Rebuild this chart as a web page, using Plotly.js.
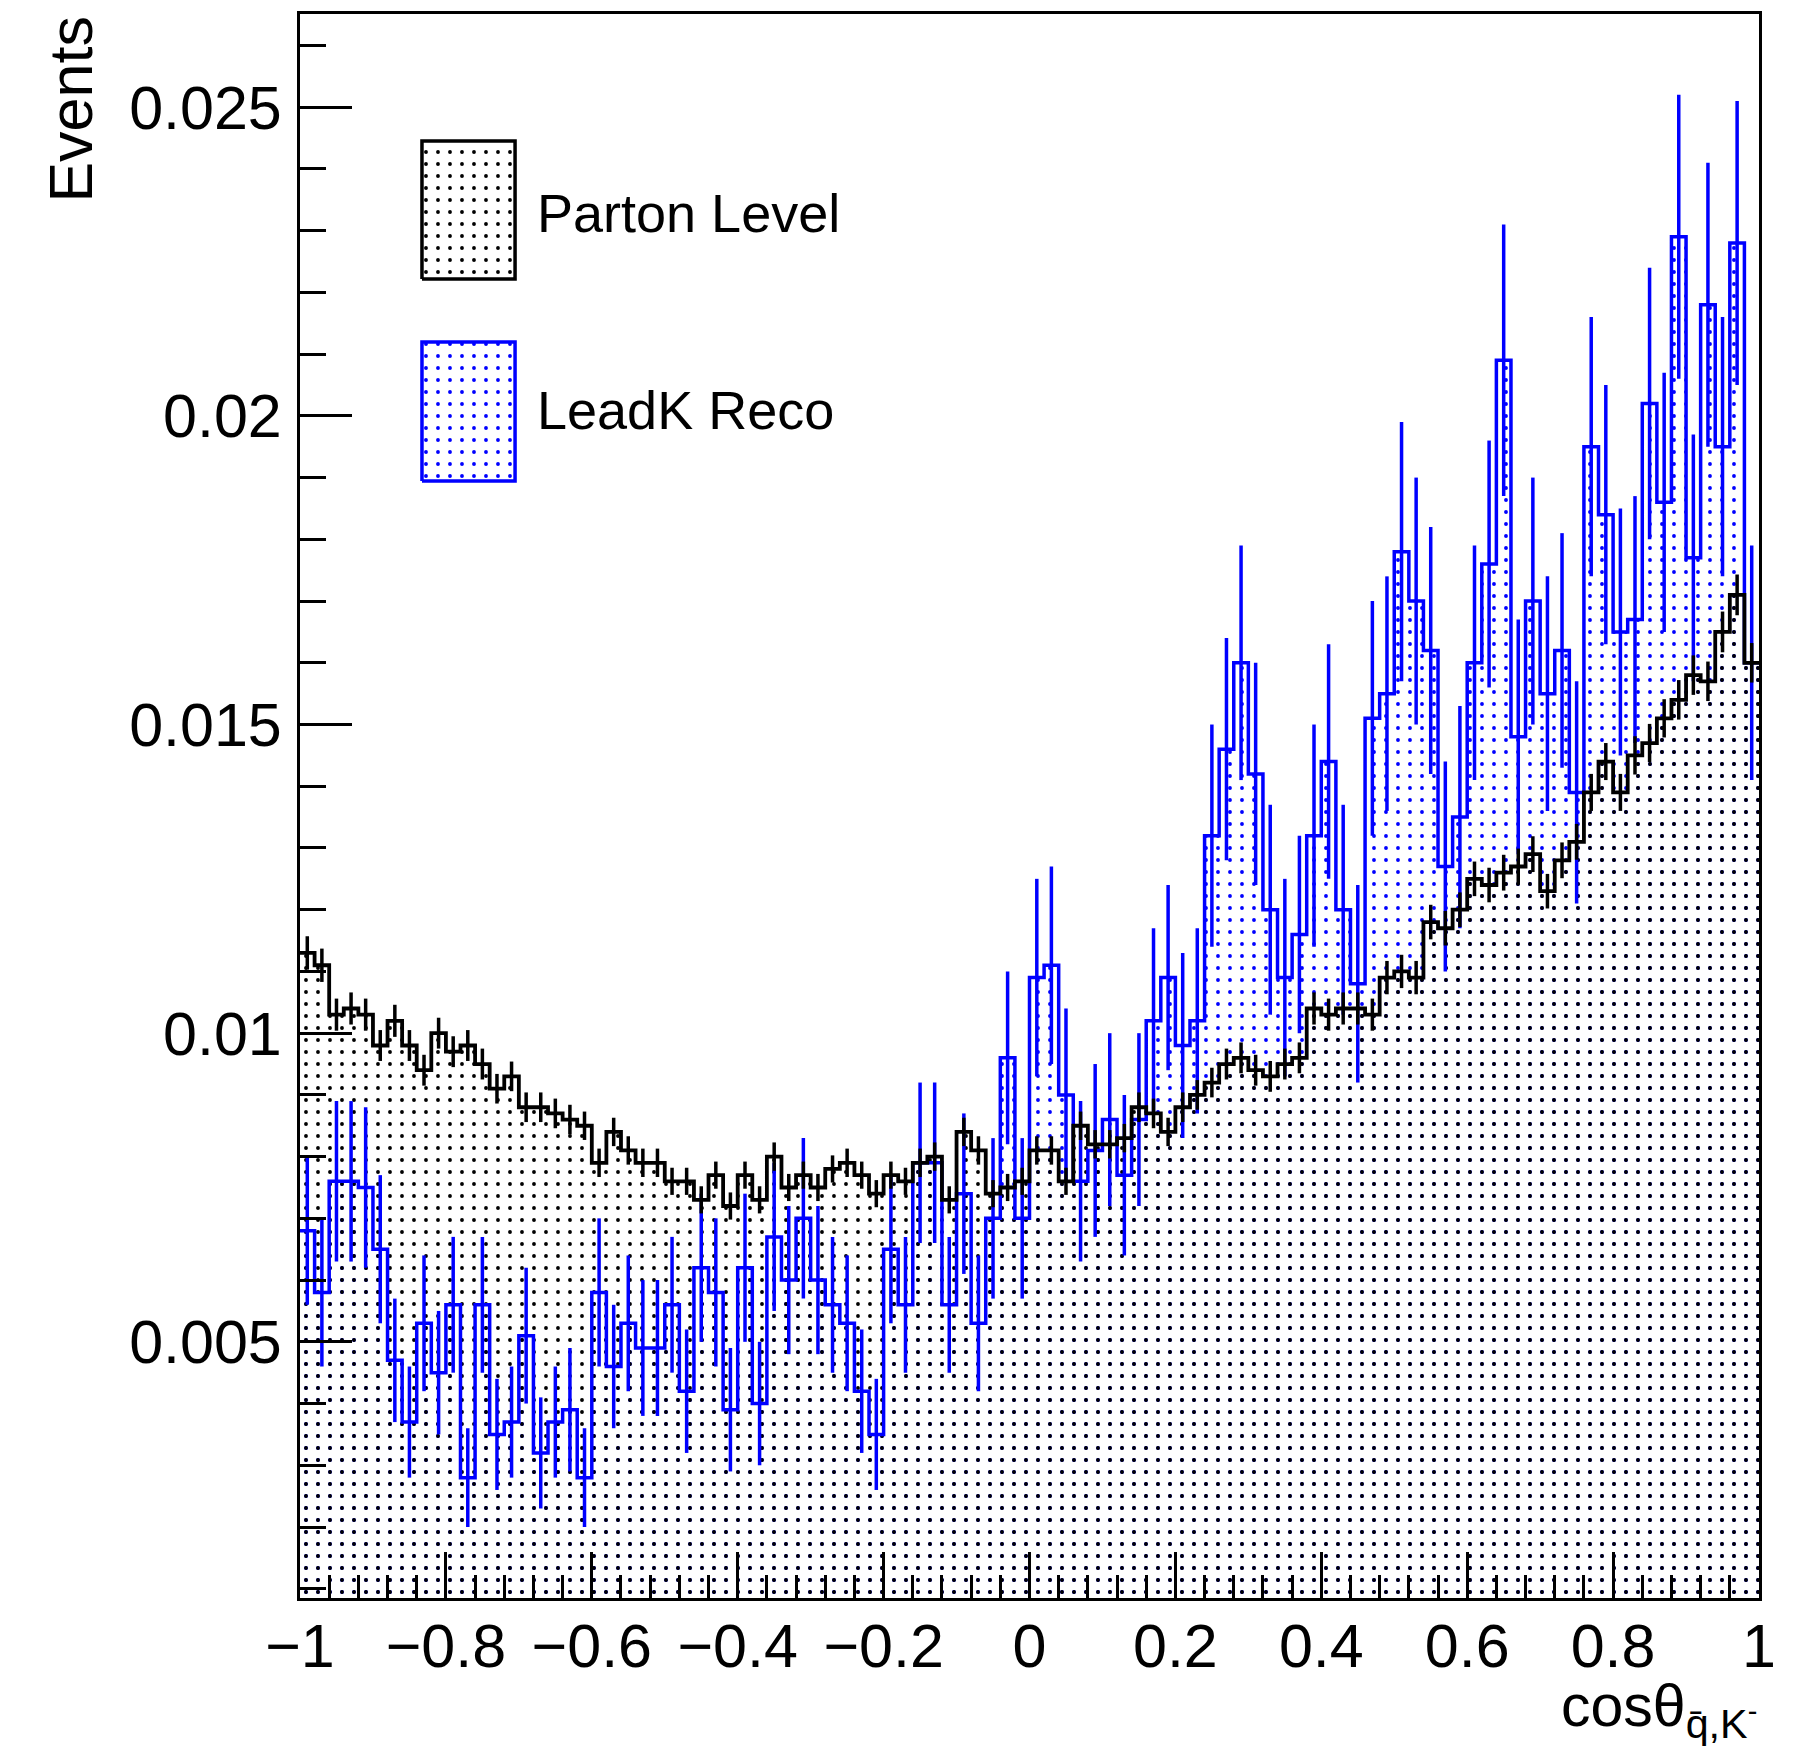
<!DOCTYPE html>
<html><head><meta charset="utf-8">
<script src="https://cdn.plot.ly/plotly-3.0.1.min.js"></script>
<style>html,body{margin:0;padding:0;background:#fff;} #chart{width:1803px;height:1750px;}</style>
</head><body><div id="chart"></div>
<script>
// ---- binning ----
const nBins = 100;
const xLow = -1;
const xHigh = 1;

// ---- Parton Level (black) ----
const partonLevel = [
 0.0113,0.0111,0.0103,0.0104,0.0103,0.0098,0.0102,0.0098,0.0094,0.0100,
 0.0097,0.0098,0.0095,0.0091,0.0093,0.0088,0.0088,0.0087,0.0086,0.0085,
 0.0079,0.0084,0.0081,0.0079,0.0079,0.0076,0.0076,0.0073,0.0077,0.0072,
 0.0077,0.0073,0.0080,0.0075,0.0077,0.0075,0.0078,0.0079,0.0077,0.0074,
 0.0077,0.0076,0.0079,0.0080,0.0073,0.0084,0.0081,0.0074,0.0075,0.0076,
 0.0081,0.0081,0.0076,0.0085,0.0082,0.0082,0.0083,0.0088,0.0087,0.0084,
 0.0088,0.0090,0.0092,0.0095,0.0096,0.0094,0.0093,0.0095,0.0096,0.0104,
 0.0103,0.0104,0.0104,0.0103,0.0109,0.0110,0.0109,0.0118,0.0117,0.0120,
 0.0125,0.0124,0.0126,0.0127,0.0129,0.0123,0.0128,0.0131,0.0139,0.0144,
 0.0139,0.0145,0.0147,0.0151,0.0154,0.0158,0.0157,0.0165,0.0171,0.0160
];
const partonErr = [
 0.00027,0.00027,0.00026,0.00026,0.00026,0.00025,0.00026,0.00025,0.00025,0.00025,
 0.00025,0.00025,0.00025,0.00024,0.00024,0.00024,0.00024,0.00024,0.00024,0.00023,
 0.00023,0.00023,0.00023,0.00023,0.00023,0.00022,0.00022,0.00022,0.00022,0.00022,
 0.00022,0.00022,0.00023,0.00022,0.00022,0.00022,0.00022,0.00023,0.00022,0.00022,
 0.00022,0.00022,0.00023,0.00023,0.00022,0.00023,0.00023,0.00022,0.00022,0.00022,
 0.00023,0.00023,0.00022,0.00023,0.00023,0.00023,0.00023,0.00024,0.00024,0.00023,
 0.00024,0.00024,0.00024,0.00025,0.00025,0.00025,0.00025,0.00025,0.00025,0.00026,
 0.00026,0.00026,0.00026,0.00026,0.00027,0.00027,0.00027,0.00028,0.00028,0.00028,
 0.00028,0.00028,0.00029,0.00029,0.00029,0.00028,0.00029,0.00029,0.00030,0.00030,
 0.00030,0.00031,0.00031,0.00031,0.00032,0.00032,0.00032,0.00033,0.00033,0.00032
];

// ---- LeadK Reco (blue) ----
const leadKReco = [
 0.0068,0.0058,0.0076,0.0076,0.0075,0.0065,0.0047,0.0037,0.0053,0.0045,
 0.0056,0.0028,0.0056,0.0035,0.0037,0.0051,0.0032,0.0037,0.0039,0.0028,
 0.0058,0.0046,0.0053,0.0049,0.0049,0.0056,0.0042,0.0062,0.0058,0.0039,
 0.0062,0.0040,0.0067,0.0060,0.0070,0.0060,0.0056,0.0053,0.0042,0.0035,
 0.0065,0.0056,0.0079,0.0079,0.0056,0.0074,0.0053,0.0070,0.0096,0.0070,
 0.0109,0.0111,0.0090,0.0076,0.0081,0.0086,0.0077,0.0086,0.0102,0.0109,
 0.0098,0.0102,0.0132,0.0146,0.0160,0.0142,0.0120,0.0109,0.0116,0.0132,
 0.0144,0.0120,0.0108,0.0151,0.0155,0.0178,0.0170,0.0162,0.0127,0.0135,
 0.0160,0.0176,0.0209,0.0148,0.0170,0.0155,0.0162,0.0139,0.0195,0.0184,
 0.0165,0.0167,0.0202,0.0186,0.0229,0.0177,0.0218,0.0195,0.0228,0.0160
];
const leadKErr = [
 0.0012,0.0012,0.0013,0.0013,0.0013,0.0012,0.0010,0.0009,0.0011,0.0010,
 0.0011,0.0008,0.0011,0.0009,0.0009,0.0011,0.0009,0.0009,0.0010,0.0008,
 0.0012,0.0010,0.0011,0.0011,0.0011,0.0011,0.0010,0.0012,0.0012,0.0010,
 0.0012,0.0010,0.0012,0.0012,0.0013,0.0012,0.0011,0.0011,0.0010,0.0009,
 0.0012,0.0011,0.0013,0.0013,0.0011,0.0013,0.0011,0.0013,0.0014,0.0013,
 0.0016,0.0016,0.0014,0.0013,0.0014,0.0014,0.0013,0.0014,0.0015,0.0015,
 0.0015,0.0015,0.0018,0.0018,0.0019,0.0018,0.0017,0.0016,0.0016,0.0018,
 0.0019,0.0017,0.0016,0.0019,0.0019,0.0021,0.0020,0.0020,0.0017,0.0018,
 0.0019,0.0020,0.0022,0.0019,0.0020,0.0019,0.0019,0.0018,0.0021,0.0021,
 0.0020,0.0020,0.0022,0.0021,0.0023,0.0020,0.0023,0.0021,0.0023,0.0019
];

// ---- axis ticks & labels ----
const yTickVals = [0.005, 0.01, 0.015, 0.02, 0.025];
const yTickText = ['0.005', '0.01', '0.015', '0.02', '0.025'];
const xTickVals = [-1, -0.8, -0.6, -0.4, -0.2, 0, 0.2, 0.4, 0.6, 0.8, 1];
const xTickText = ['\u22121', '\u22120.8', '\u22120.6', '\u22120.4', '\u22120.2', '0', '0.2', '0.4', '0.6', '0.8', '1'];
const legendLabels = ['Parton Level', 'LeadK Reco'];
const yTitle = 'Events';
const xTitle = 'cos\u03b8<sub>q\u0304,K<sup>-</sup></sub>';

// ---- derived bin geometry ----
const binW = (xHigh - xLow) / nBins;
const edges = [];
for (let k = 0; k <= nBins; k++) edges.push(xLow + k * binW);
const centers = [];
for (let k = 0; k < nBins; k++) centers.push(xLow + (k + 0.5) * binW);
const stepY = arr => arr.concat([arr[arr.length - 1]]);

const BLUE = '#0000ff';
const BLACK = '#000000';
const FONT = '"Liberation Sans", Arial, Helvetica, sans-serif';

const dots = (c) => ({shape: '.', fgcolor: c, size: 12, solidity: 0.08});

const traces = [
  // blue fill
  {x: edges, y: stepY(leadKReco), type: 'scatter', mode: 'lines', line: {shape: 'hv', width: 0, color: BLUE},
   fill: 'tozeroy', fillcolor: 'rgba(0,0,0,0)', fillpattern: dots(BLUE), hoverinfo: 'skip', showlegend: false},
  // black fill
  {x: edges, y: stepY(partonLevel), type: 'scatter', mode: 'lines', line: {shape: 'hv', width: 0, color: BLACK},
   fill: 'tozeroy', fillcolor: 'rgba(0,0,0,0)', fillpattern: dots(BLACK), hoverinfo: 'skip', showlegend: false},
  // blue outline
  {x: edges, y: stepY(leadKReco), type: 'scatter', mode: 'lines', line: {shape: 'hv', width: 3.5, color: BLUE},
   showlegend: false, name: legendLabels[1]},
  // blue errors
  {x: centers, y: leadKReco, type: 'scatter', mode: 'markers', marker: {size: 2, color: BLUE, opacity: 0},
   error_y: {type: 'data', array: leadKErr, visible: true, color: BLUE, thickness: 3.5, width: 0}, showlegend: false},
  // black outline
  {x: edges, y: stepY(partonLevel), type: 'scatter', mode: 'lines', line: {shape: 'hv', width: 3.8, color: BLACK},
   showlegend: false, name: legendLabels[0]},
  // black errors
  {x: centers, y: partonLevel, type: 'scatter', mode: 'markers', marker: {size: 2, color: BLACK, opacity: 0},
   error_y: {type: 'data', array: partonErr, visible: true, color: BLACK, thickness: 3.5, width: 0}, showlegend: false}
];

// legend patches drawn on an overlay 0..1 axis pair
function boxTrace(x0, x1, y0, y1, c) {
  return {x: [x0, x1, x1, x0, x0], y: [y0, y0, y1, y1, y0], xaxis: 'x2', yaxis: 'y2', type: 'scatter', mode: 'lines',
    line: {color: c, width: 3.5}, fill: 'toself', fillcolor: 'rgba(0,0,0,0)', fillpattern: dots(c),
    hoverinfo: 'skip', showlegend: false};
}
traces.push(boxTrace(0.0836, 0.1474, 0.8327, 0.9198, BLACK));
traces.push(boxTrace(0.0836, 0.1474, 0.7052, 0.7929, BLUE));

const layout = {
  width: 1803, height: 1750,
  margin: {l: 300, r: 44, t: 14, b: 152, pad: 0},
  paper_bgcolor: '#ffffff', plot_bgcolor: '#ffffff',
  font: {family: FONT, color: BLACK, size: 61},
  showlegend: false,
  xaxis: {
    range: [xLow, xHigh], tickmode: 'array', tickvals: xTickVals, ticktext: xTickText,
    ticks: 'inside', ticklen: 46, tickwidth: 3, tickcolor: BLACK,
    minor: {ticks: 'inside', tickmode: 'linear', tick0: -1, dtick: 0.04, ticklen: 23, tickwidth: 3, tickcolor: BLACK, showgrid: false},
    showline: true, mirror: true, linewidth: 3, linecolor: BLACK, showgrid: false, zeroline: false,
    tickfont: {family: FONT, size: 61, color: BLACK}, ticklabelstandoff: -7
  },
  yaxis: {
    range: [0.00085, 0.02651], tickmode: 'array', tickvals: yTickVals, ticktext: yTickText,
    ticks: 'inside', ticklen: 52, tickwidth: 3, tickcolor: BLACK,
    minor: {ticks: 'inside', tickmode: 'linear', tick0: 0, dtick: 0.001, ticklen: 26, tickwidth: 3, tickcolor: BLACK, showgrid: false},
    showline: true, mirror: true, linewidth: 3, linecolor: BLACK, showgrid: false, zeroline: false,
    tickfont: {family: FONT, size: 61, color: BLACK}, ticklabelstandoff: 3
  },
  xaxis2: {overlaying: 'x', anchor: 'y2', range: [0, 1], visible: false, fixedrange: true},
  yaxis2: {overlaying: 'y', anchor: 'x2', range: [0, 1], visible: false, fixedrange: true},
  annotations: [
    {xref: 'paper', yref: 'paper', x: -0.1576, y: 1.0, xanchor: 'center', yanchor: 'top', textangle: -90,
     text: yTitle, showarrow: false, font: {family: FONT, size: 61, color: BLACK}},
    {xref: 'paper', yref: 'paper', x: 1.0, y: -0.046, xanchor: 'right', yanchor: 'top',
     text: xTitle, showarrow: false, font: {family: FONT, size: 59, color: BLACK}},
    {xref: 'paper', yref: 'paper', x: 0.161, y: 0.8744, xanchor: 'left', yanchor: 'middle',
     text: legendLabels[0], showarrow: false, font: {family: FONT, size: 54, color: BLACK}},
    {xref: 'paper', yref: 'paper', x: 0.161, y: 0.75, xanchor: 'left', yanchor: 'middle',
     text: legendLabels[1], showarrow: false, font: {family: FONT, size: 54, color: BLACK}}
  ]
};

Plotly.newPlot('chart', traces, layout, {staticPlot: true, displayModeBar: false});
</script>
</body></html>
